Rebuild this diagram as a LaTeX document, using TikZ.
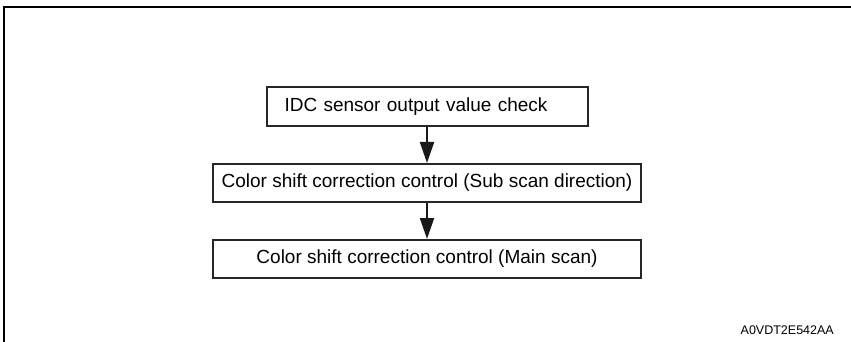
\documentclass[tikz,border=0pt]{standalone}
\usepackage{fontspec}
\setmainfont{Liberation Sans}
\usetikzlibrary{arrows.meta,positioning}

\begin{document}
\begin{tikzpicture}[
    x=1pt, y=1pt,
    node distance=36pt,
    stepbox/.style={rectangle, draw=black!85, line width=2pt, minimum height=38pt,
        inner ysep=0pt, font=\fontsize{19}{21}\selectfont},
    widebox/.style={stepbox, minimum width=428pt, align=center},
    arrow/.style={-{Triangle[length=21pt, width=14pt]}, line width=2pt, black!90},
    frame/.style={line width=2.4pt, black}
]
\useasboundingbox (0,0) rectangle (851,-342);

% frame (top and left edges)
\draw[frame] (4.2,-342) -- (4.2,-6.8) -- (851,-6.8);

\node[stepbox, text width=285pt, inner xsep=18pt, align=left, minimum height=39pt]
    (check) at (427,-106.5) {IDC sensor output value check};
\node[widebox, below=of check] (subscan) {Color shift correction control (Sub scan direction)};
\node[widebox, below=of subscan] (mainscan) {Color shift correction control (Main scan)};

\draw[arrow] (check) -- (subscan);
\draw[arrow] (subscan) -- (mainscan);

\node[anchor=base east, font=\fontsize{12.5}{14}\selectfont, inner sep=0pt] (code) at (834,-334) {A0VDT2E542AA};
\end{tikzpicture}
\end{document}
